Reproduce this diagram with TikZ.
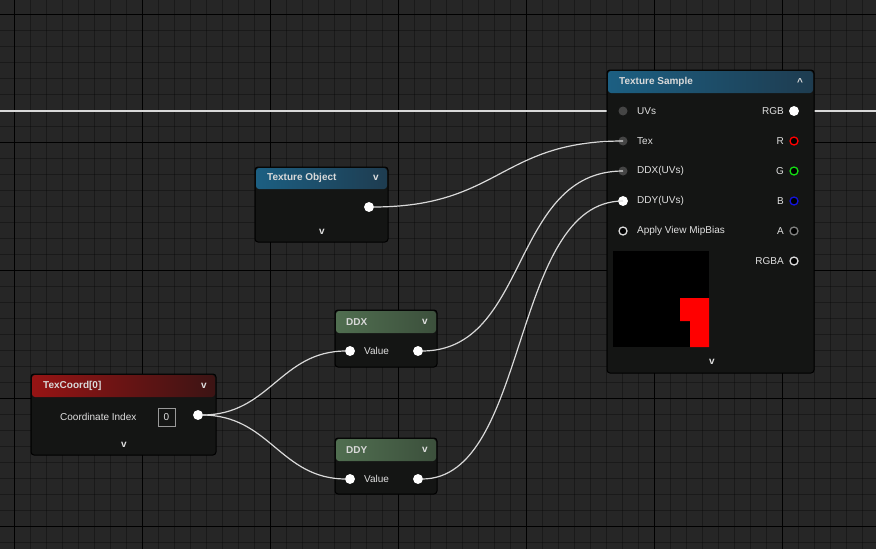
\documentclass[tikz,border=0pt]{standalone}
\usepackage{fontspec}
\setmainfont{Liberation Sans}
\definecolor{bg}{RGB}{38,38,38}
\definecolor{nodebg}{RGB}{20,21,20}
\definecolor{blueA}{RGB}{28,95,130}
\definecolor{blueB}{RGB}{30,60,80}
\definecolor{greenA}{RGB}{80,110,80}
\definecolor{greenB}{RGB}{60,80,60}
\definecolor{redA}{RGB}{150,20,20}
\definecolor{redB}{RGB}{60,20,20}
\definecolor{pinG}{RGB}{20,220,20}
\definecolor{pinB}{RGB}{20,20,220}
\begin{document}
\begin{tikzpicture}[x=1pt,y=-1pt,
 node box/.style={draw=black,fill=nodebg,rounded corners=3pt,line width=1pt},
 lbl/.style={text=white!88!black,font=\fontsize{10}{11}\selectfont,inner sep=0pt},
 ttl/.style={text=white!85!black,font=\bfseries\fontsize{10}{11}\selectfont,inner sep=0pt,anchor=west},
 wire/.style={draw=white!85!black,line width=1.2pt},
 pinf/.style={fill=white,draw=white,line width=0.8pt},
 pino/.style={draw=#1,line width=1.3pt,fill=black},
 ping/.style={fill=white!27!black}]
\fill[bg] (0,0) rectangle (876,549);
\useasboundingbox (0,0) rectangle (876,549);
\foreach \x in {14,30,...,876} \draw[black,line width=0.5pt,opacity=0.3] (\x,0)--(\x,549);
\foreach \y in {14,30,...,549} \draw[black,line width=0.5pt,opacity=0.3] (0,\y)--(876,\y);
\foreach \x in {14,142,270,398,526,654,782} \draw[black,line width=0.8pt] (\x,0)--(\x,549);
\foreach \y in {14,142,270,398,526} \draw[black,line width=0.8pt] (0,\y)--(876,\y);
% through wire
\draw[wire] (0,111)--(876,111);
% Texture Sample
\draw[node box] (607,70) rectangle (814,373);
\shade[left color=blueA,right color=blueB,rounded corners=3pt] (608,71) rectangle (813,93);
\node[ttl] (tst) at (619,82) {Texture Sample};
\node[lbl] at (800,82) {\textbf{\^{}}};
\coordinate (uv) at (623,111); \coordinate (tex) at (623,141);
\coordinate (ddxin) at (623,171); \coordinate (ddyin) at (623,201);
\foreach \y/\t in {111/UVs,141/Tex,171/DDX(UVs),201/DDY(UVs),231/Apply View MipBias}
  \node[lbl,anchor=west] at (637,\y) {\t};
\foreach \y/\t in {111/RGB,141/R,171/G,201/B,231/A,261/RGBA}
  \node[lbl,anchor=east] at (784,\y) {\t};
\foreach \y in {111,141,171} \fill[ping] (623,\y) circle (4.5);
\fill[pinf] (623,201) circle (4.5);
\draw[pino=white!85!black] (623,231) circle (4);
\fill[pinf] (794,111) circle (4.5);
\draw[pino=red] (794,141) circle (4);
\draw[pino=pinG] (794,171) circle (4);
\draw[pino=pinB] (794,201) circle (4);
\draw[pino=gray] (794,231) circle (4);
\draw[pino=white!85!black] (794,261) circle (4);
\fill[black] (613,251) rectangle (709,347);
\fill[red] (680,298)--(709,298)--(709,347)--(690,347)--(690,321)--(680,321)--cycle;
\node[lbl] at (712,362) {\textbf{v}};
% Texture Object
\draw[node box] (255,167) rectangle (388,242);
\shade[left color=blueA,right color=blueB,rounded corners=3pt] (256,168) rectangle (387,189);
\node[ttl] (tot) at (267,178) {Texture Object};
\node[lbl] at (376,178) {\textbf{v}};
\fill[pinf] (369,207) circle (4.5);
\coordinate (toout) at (373,207);
\node[lbl] at (322,232) {\textbf{v}};
% DDX
\draw[node box] (335,310) rectangle (437,367);
\shade[left color=greenA,right color=greenB,rounded corners=3pt] (336,311) rectangle (436,333);
\node[ttl] (ddx) at (346,322) {DDX};
\node[lbl] at (425,322) {\textbf{v}};
\fill[pinf] (350,351) circle (4.5); \fill[pinf] (418,351) circle (4.5);
\node[lbl,anchor=west] at (364,351) {Value};
\coordinate (ddxi) at (346,351); \coordinate (ddxo) at (422,351);
% DDY
\draw[node box] (335,438) rectangle (437,494);
\shade[left color=greenA,right color=greenB,rounded corners=3pt] (336,439) rectangle (436,461);
\node[ttl] (ddy) at (346,450) {DDY};
\node[lbl] at (425,450) {\textbf{v}};
\fill[pinf] (350,479) circle (4.5); \fill[pinf] (418,479) circle (4.5);
\node[lbl,anchor=west] at (364,479) {Value};
\coordinate (ddyi) at (346,479); \coordinate (ddyo) at (422,479);
% TexCoord
\draw[node box] (31,374) rectangle (216,455);
\shade[left color=redA,right color=redB,rounded corners=3pt] (32,375) rectangle (215,397);
\node[ttl] (tc) at (43,386) {TexCoord[0]};
\node[lbl] at (204,386) {\textbf{v}};
\node[lbl,anchor=west] at (60,417) {Coordinate Index};
\draw[white!60!black,line width=0.8pt] (158,408) rectangle (175,426);
\node[lbl] at (166.5,417) {0};
\fill[pinf] (198,415) circle (4.5);
\coordinate (tco) at (202,415);
\node[lbl] at (124,445) {\textbf{v}};
% wires
\draw[wire] (tco) .. controls (270,415) and (280,351) .. (ddxi);
\draw[wire] (tco) .. controls (270,415) and (280,479) .. (ddyi);
\draw[wire] (ddxo) .. controls (530,351) and (510,171) .. (ddxin);
\draw[wire] (ddyo) .. controls (530,479) and (510,201) .. (ddyin);
\draw[wire] (toout) .. controls (500,207) and (500,141) .. (tex);
\end{tikzpicture}
\end{document}
